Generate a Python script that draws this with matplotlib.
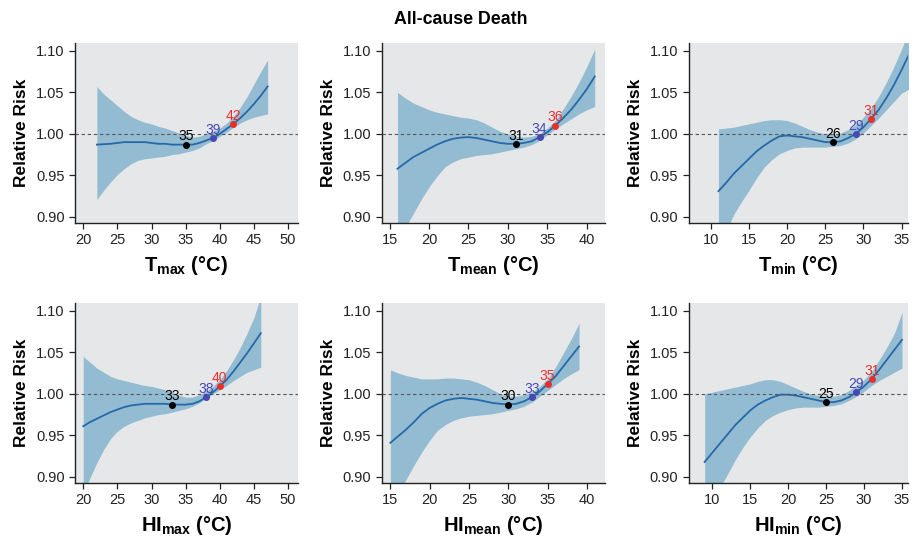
import matplotlib
matplotlib.use("Agg")
import matplotlib.pyplot as plt
import numpy as np

plt.rcParams['font.family'] = ['Liberation Sans', 'DejaVu Sans']
plt.rcParams['mathtext.fontset'] = 'custom'
plt.rcParams['mathtext.rm'] = 'Liberation Sans:bold'
plt.rcParams['mathtext.bf'] = 'Liberation Sans:bold'

# --- data (one value per degree) ---
tmax_x = list(range(22, 48))
tmax_rr = [0.987, 0.9875, 0.988, 0.989, 0.990, 0.990, 0.990, 0.990, 0.989, 0.988, 0.988, 0.987, 0.987,
           0.987, 0.987, 0.989, 0.992, 0.995, 1.000, 1.006, 1.012, 1.019, 1.027, 1.036, 1.046, 1.057]
tmax_lo = [0.921, 0.932, 0.942, 0.951, 0.958, 0.964, 0.968, 0.970, 0.971, 0.972, 0.973, 0.975, 0.976,
           0.978, 0.980, 0.983, 0.988, 0.992, 0.997, 1.002, 1.008, 1.013, 1.017, 1.020, 1.022, 1.024]
tmax_hi = [1.057, 1.048, 1.041, 1.034, 1.027, 1.021, 1.017, 1.014, 1.012, 1.009, 1.007, 1.004, 1.001,
           0.998, 0.996, 0.997, 1.000, 1.003, 1.007, 1.013, 1.021, 1.032, 1.045, 1.060, 1.075, 1.089]
tmax_pts = [35, 39, 42]

tmean_x = list(range(16, 42))
tmean_rr = [0.958, 0.965, 0.972, 0.977, 0.982, 0.987, 0.991, 0.994, 0.9955, 0.996, 0.995, 0.993, 0.991,
            0.989, 0.988, 0.988, 0.989, 0.991, 0.996, 1.002, 1.010, 1.019, 1.029, 1.041, 1.054, 1.069]
tmean_lo = [0.870, 0.887, 0.904, 0.921, 0.936, 0.949, 0.960, 0.966, 0.970, 0.972, 0.974, 0.975, 0.976,
            0.978, 0.980, 0.982, 0.984, 0.987, 0.992, 0.999, 1.006, 1.012, 1.018, 1.024, 1.029, 1.033]
tmean_hi = [1.050, 1.043, 1.037, 1.033, 1.029, 1.026, 1.024, 1.022, 1.020, 1.019, 1.017, 1.013, 1.008,
            1.003, 1.000, 0.997, 0.996, 0.997, 1.000, 1.007, 1.016, 1.030, 1.045, 1.062, 1.081, 1.102]
tmean_pts = [31, 34, 36]

tmin_x = list(range(11, 37))
tmin_rr = [0.931, 0.941, 0.952, 0.961, 0.970, 0.979, 0.986, 0.992, 0.997, 0.998, 0.997, 0.996, 0.994,
           0.992, 0.990, 0.990, 0.991, 0.995, 1.000, 1.008, 1.018, 1.029, 1.043, 1.059, 1.077, 1.096]
tmin_lo = [0.860, 0.882, 0.903, 0.918, 0.932, 0.947, 0.960, 0.969, 0.976, 0.980, 0.983, 0.984, 0.984,
           0.984, 0.984, 0.985, 0.986, 0.989, 0.994, 1.001, 1.010, 1.019, 1.029, 1.039, 1.049, 1.054]
tmin_hi = [1.006, 1.007, 1.008, 1.010, 1.012, 1.014, 1.016, 1.017, 1.017, 1.016, 1.013, 1.009, 1.005,
           1.002, 1.000, 0.999, 1.001, 1.005, 1.011, 1.020, 1.031, 1.045, 1.062, 1.081, 1.102, 1.125]
tmin_pts = [26, 29, 31]

himax_x = list(range(20, 47))
himax_rr = [0.961, 0.966, 0.970, 0.974, 0.978, 0.981, 0.984, 0.986, 0.987, 0.988, 0.988, 0.988, 0.988,
            0.987, 0.987, 0.987, 0.988, 0.991, 0.996, 1.002, 1.009, 1.017, 1.027, 1.038, 1.049, 1.061, 1.073]
himax_lo = [0.880, 0.899, 0.917, 0.933, 0.946, 0.955, 0.961, 0.965, 0.968, 0.971, 0.973, 0.975, 0.976,
            0.978, 0.980, 0.982, 0.985, 0.989, 0.995, 1.000, 1.005, 1.010, 1.016, 1.021, 1.026, 1.029, 1.032]
himax_hi = [1.045, 1.038, 1.031, 1.026, 1.021, 1.018, 1.016, 1.014, 1.012, 1.010, 1.009, 1.007, 1.005,
            1.002, 0.998, 0.996, 0.996, 0.999, 1.003, 1.009, 1.017, 1.028, 1.041, 1.056, 1.073, 1.092, 1.118]
himax_pts = [33, 38, 40]

himean_x = list(range(15, 40))
himean_rr = [0.941, 0.949, 0.957, 0.966, 0.976, 0.983, 0.988, 0.992, 0.994, 0.995, 0.994, 0.993, 0.991,
             0.989, 0.988, 0.987, 0.988, 0.991, 0.996, 1.003, 1.012, 1.021, 1.033, 1.045, 1.057]
himean_lo = [0.860, 0.879, 0.897, 0.914, 0.930, 0.944, 0.956, 0.963, 0.968, 0.971, 0.973, 0.974, 0.975,
             0.976, 0.978, 0.980, 0.982, 0.985, 0.990, 0.997, 1.004, 1.011, 1.018, 1.024, 1.029]
himean_hi = [1.029, 1.025, 1.022, 1.020, 1.018, 1.018, 1.018, 1.019, 1.019, 1.018, 1.017, 1.014, 1.010,
             1.005, 1.000, 0.997, 0.997, 0.999, 1.002, 1.009, 1.018, 1.032, 1.049, 1.066, 1.085]
himean_pts = [30, 33, 35]

himin_x = list(range(9, 36))
himin_rr = [0.918, 0.929, 0.940, 0.951, 0.962, 0.971, 0.980, 0.987, 0.992, 0.996, 0.999, 0.999, 0.998,
            0.996, 0.994, 0.992, 0.990, 0.990, 0.992, 0.996, 1.002, 1.009, 1.018, 1.029, 1.041, 1.053, 1.065]
himin_lo = [0.850, 0.870, 0.887, 0.903, 0.920, 0.935, 0.948, 0.959, 0.968, 0.974, 0.978, 0.981, 0.983,
            0.984, 0.984, 0.984, 0.985, 0.986, 0.988, 0.992, 0.997, 1.003, 1.010, 1.016, 1.021, 1.026, 1.031]
himin_hi = [1.000, 1.002, 1.004, 1.006, 1.008, 1.010, 1.012, 1.015, 1.017, 1.017, 1.015, 1.011, 1.007,
            1.003, 1.000, 0.998, 0.997, 0.997, 0.999, 1.004, 1.010, 1.017, 1.027, 1.041, 1.056, 1.073, 1.098]
himin_pts = [25, 29, 31]

panels = [
    ("T", "max", tmax_x, tmax_rr, tmax_lo, tmax_hi, tmax_pts, (18.8, 51.4), [20, 25, 30, 35, 40, 45, 50]),
    ("T", "mean", tmean_x, tmean_rr, tmean_lo, tmean_hi, tmean_pts, (14.0, 42.3), [15, 20, 25, 30, 35, 40]),
    ("T", "min", tmin_x, tmin_rr, tmin_lo, tmin_hi, tmin_pts, (7.1, 35.8), [10, 15, 20, 25, 30, 35]),
    ("HI", "max", himax_x, himax_rr, himax_lo, himax_hi, himax_pts, (18.8, 51.4), [20, 25, 30, 35, 40, 45, 50]),
    ("HI", "mean", himean_x, himean_rr, himean_lo, himean_hi, himean_pts, (13.9, 42.3), [15, 20, 25, 30, 35, 40]),
    ("HI", "min", himin_x, himin_rr, himin_lo, himin_hi, himin_pts, (6.9, 35.75), [10, 15, 20, 25, 30, 35]),
]

W, H = 921, 536
fig = plt.figure(figsize=(W / 100, H / 100), dpi=100)
fig.patch.set_facecolor('white')

# axes boxes in pixels
lefts = [(75, 297.7), (381.7, 605), (688.7, 907.7)]
rows = [(43.3, 222.7), (303.3, 482.7)]

band_color = '#93bcd3'
line_color = '#2668a8'
bg_color = '#e6e7e9'
pt_colors = ['black', '#4747b5', '#e8302a']

for i, (base, sub, x, rr, lo, hi, pts, xlim, xticks) in enumerate(panels):
    r, c = divmod(i, 3)
    l, rgt = lefts[c]
    top, bot = rows[r]
    ax = fig.add_axes([l / W, 1 - bot / H, (rgt - l) / W, (bot - top) / H])
    ax.set_facecolor(bg_color)
    ax.fill_between(x, lo, hi, color=band_color, lw=0, zorder=1)
    ax.plot(x, rr, color=line_color, lw=1.3, zorder=2)
    ax.axhline(1.0, color='#555555', lw=0.8, ls=(0, (3, 2.5)), zorder=3)
    for p, pc in zip(pts, pt_colors):
        yv = np.interp(p, x, rr)
        ax.plot([p], [yv], 'o', color=pc, ms=4, zorder=4)
        ax.text(p, yv + 0.0015, str(p), color=pc, fontsize=10, ha='center', va='bottom', zorder=5)
    ax.set_xlim(*xlim)
    ax.set_ylim(0.893, 1.109)
    ax.set_xticks(xticks)
    ax.set_yticks([0.90, 0.95, 1.00, 1.05, 1.10])
    ax.set_yticklabels(['0.90', '0.95', '1.00', '1.05', '1.10'])
    for s in ['top', 'right']:
        ax.spines[s].set_visible(False)
    for s in ['left', 'bottom']:
        ax.spines[s].set_linewidth(1.0)
        ax.spines[s].set_color('#222222')
    ax.tick_params(axis='both', direction='out', length=4, width=0.9, labelsize=10.5, colors='#222222')
    ax.set_ylabel('Relative Risk', fontsize=12.5, fontweight='bold', labelpad=5)
    ax.set_xlabel(r'$\mathrm{%s}_{\mathrm{%s}}$ (°C)' % (base, sub), fontsize=14.5, fontweight='bold', labelpad=5)

fig.text(0.5, 1 - 20 / H, 'All-cause Death', ha='center', va='center', fontsize=12.8, fontweight='bold')

fig.savefig('out.png', dpi=100)
